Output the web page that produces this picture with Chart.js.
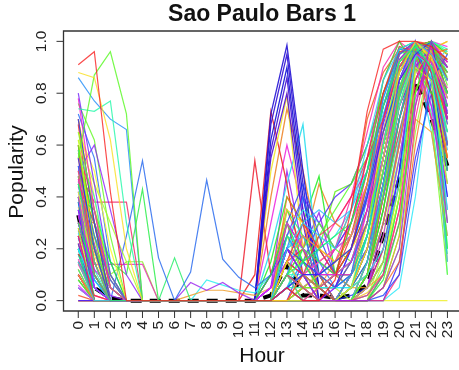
<!DOCTYPE html>
<html>
<head>
<meta charset="utf-8">
<script src="https://cdn.jsdelivr.net/npm/chart.js@4/dist/chart.umd.min.js"></script>
<style>
  body { margin: 0; background: #fff; }
  canvas { display: block; }
</style>
</head>
<body>
<canvas id="popularity" width="459" height="370"></canvas>
<script>
// Hours of the day (x axis)
const hours = [0,1,2,3,4,5,6,7,8,9,10,11,12,13,14,15,16,17,18,19,20,21,22,23];
const yTicks = [0, 0.2, 0.4, 0.6, 0.8, 1.0];

// Bars that are busy late at night
const nightBars = [
  [.91,.96,.42,0,0,0,0,0,0,0,0,0,0,.05,0,0,.08,.35,.73,.97,1,1,.98,.93],
  [.88,.86,.62,.2,0,0,0,0,0,0,0,0,0,0,0,0,0,.05,.2,.55,.88,1,.94,.78],
  [.55,.87,.96,.72,0,0,0,0,0,0,0,0,0,.1,.05,0,0,0,.1,.42,.8,.98,1,.86],
  [.74,.73,.77,.3,0,0,0,0,0,0,0,0,0,.1,0,0,0,.05,.25,.6,.92,.99,.9,.65],
  [.86,.77,.7,.66,0,0,0,0,0,0,0,0,0,0,0,0,0,.1,.4,.78,.97,.96,.85,.6],
  [.8,.45,.1,0,0,0,0,0,0,0,0,0,0,.2,.1,0,.05,.15,.3,.7,.95,1,.97,.9],
  [.78,.35,.05,0,0,0,0,0,0,0,0,0,0,0,0,.05,.1,.1,.35,.7,.92,1,.95,.7],
  [.7,.3,0,0,0,0,0,0,0,0,0,0,0,.15,.3,.2,.1,.2,.45,.8,.98,.96,.9,.7],
  [.65,.5,.2,0,0,0,0,0,0,0,0,0,0,0,0,0,0,.05,.3,.65,.9,1,.93,.82],
  [.6,.2,0,0,0,0,0,0,0,0,0,0,.1,.3,.15,.05,.1,.3,.5,.85,1,.9,.8,.75],
  [.58,.4,.1,0,0,0,0,0,0,0,0,0,0,.05,0,0,0,0,.15,.45,.75,.95,1,.97],
  [.52,.25,.08,0,0,0,0,0,0,0,0,0,0,.2,.4,.15,.05,.1,.25,.55,.85,1,.88,.6],
  [.5,.6,.35,.1,0,0,0,0,0,0,0,0,0,0,0,0,0,0,.05,.3,.6,.9,.98,.72],
  [.47,.15,0,0,0,0,0,0,0,0,0,0,0,.1,.05,.1,.2,.4,.65,.9,1,.95,.7,.45],
  [.45,.3,.05,0,0,0,0,0,0,0,0,0,0,.3,.2,.05,0,.05,.2,.5,.8,.97,.95,.88],
  [.42,.1,0,0,0,0,0,0,0,0,0,0,0,0,0,0,0,.1,.3,.6,.95,1,.9,.55],
  [.4,.35,.15,0,0,0,0,0,0,0,0,0,0,.05,.1,.05,0,0,.1,.35,.7,.93,1,.95],
  [.38,.05,0,0,0,0,0,0,0,0,0,0,0,.25,.35,.3,.2,.25,.4,.6,.85,.98,.9,.8],
  [.35,.2,0,0,0,0,0,0,0,0,0,0,0,0,0,0,0,0,.05,.2,.5,.85,1,.92],
  [.33,.12,.05,0,0,0,0,0,0,0,0,0,.05,.15,.1,0,0,.1,.3,.65,.9,1,.75,.5],
  [.3,.1,0,0,0,0,0,0,0,0,0,0,0,0,.05,.1,.15,.3,.55,.85,1,.9,.7,.55],
  [.28,.05,0,0,0,0,0,0,0,0,0,0,0,.4,.3,.1,0,0,.1,.4,.7,.95,.97,.8],
  [.25,.25,.1,0,0,0,0,0,0,0,0,0,0,0,0,0,0,0,0,.15,.45,.8,1,.9],
  [.22,0,0,0,0,0,0,0,0,0,0,0,0,.1,.2,.1,.05,.15,.35,.7,.97,1,.85,.3],
  [.2,.08,0,0,0,0,0,0,0,0,0,0,0,0,0,0,0,.05,.2,.5,.8,1,.9,.62],
  [.18,0,0,0,0,0,0,0,0,0,0,0,.05,.3,.45,.25,.1,.05,.15,.45,.78,.98,1,.85],
  [.15,.05,0,0,0,0,0,0,0,0,0,0,0,0,0,.05,.1,.2,.4,.7,.96,.94,.8,.2],
  [.12,0,0,0,0,0,0,0,0,0,0,0,0,.05,0,0,0,0,.05,.25,.6,.92,1,.96],
  [.1,0,0,0,0,0,0,0,0,0,0,0,0,.2,.1,.05,.05,.1,.2,.4,.65,.9,.99,.68],
  [.08,0,0,0,0,0,0,0,0,0,0,0,0,0,.15,.3,.4,.45,.6,.8,.95,1,.85,.4],
  [.05,0,0,0,0,0,0,0,0,0,0,0,0,.1,.1,0,0,0,.1,.3,.55,.85,.95,.1],
  [0,0,0,0,0,0,0,0,0,0,0,0,0,0,0,0,0,0,0,.1,.35,.75,1,.98],
  [.62,.45,.3,.15,0,0,0,0,0,0,0,0,0,0,0,0,0,0,0,.2,.55,.9,.96,.88],
  [.72,.55,.15,0,0,0,0,0,0,0,0,0,0,.1,.2,.1,0,.05,.25,.55,.82,.99,.93,.73],
  [.68,.2,0,0,0,0,0,0,0,0,0,0,0,0,.05,.05,.1,.25,.5,.75,.95,1,.97,.92],
  [.57,.3,0,0,0,0,0,0,0,0,0,0,0,.35,.25,.15,.1,.05,.1,.35,.65,.9,.98,.6],
  [.44,.22,.02,0,0,0,0,0,0,0,0,0,0,0,0,0,0,0,.1,.45,.85,1,.8,.35],
  [.36,.18,0,0,0,0,0,0,0,0,0,0,.05,.15,.05,0,0,0,0,.1,.4,.8,.97,1],
  [.26,.1,0,0,0,0,0,0,0,0,0,0,0,.05,.1,.2,.25,.35,.55,.8,.98,.95,.65,.25],
  [.14,.02,0,0,0,0,0,0,0,0,0,0,0,0,0,0,0,0,.15,.45,.7,.9,.96,.78],
  [.76,.62,.25,0,0,0,0,0,0,0,0,0,0,0,0,0,0,.05,.15,.4,.75,.98,1,.83],
  [.48,.05,0,0,0,0,0,0,0,0,0,0,.1,.25,.15,.05,.05,.2,.45,.75,.9,.97,.9,.5],
  [.32,.3,.08,0,0,0,0,0,0,0,0,0,0,0,0,0,0,0,.05,.3,.62,.92,.99,.95],
  [.2,0,0,0,0,0,0,0,0,0,0,0,0,.05,.2,.1,.1,.15,.3,.6,.88,.96,.72,.18],
  [.06,0,0,0,0,0,0,0,0,0,0,0,0,0,0,0,.05,.1,.25,.55,.9,1,.97,.9]
];

// Bars that fill up through the evening
const eveningBars = [
  [.3,.1,0,0,0,0,0,0,0,0,0,0,0,.1,.15,.2,.25,.3,.5,.75,.92,.98,.9,.75],
  [.15,0,0,0,0,0,0,0,0,0,0,0,0,.2,.3,.25,.2,.35,.6,.85,.97,1,.95,.85],
  [.55,.2,0,0,0,0,0,0,0,0,0,0,0,.05,.1,.1,.15,.2,.4,.65,.85,.95,1,.7],
  [.4,.05,0,0,0,0,0,0,0,0,0,0,.05,.3,.2,.1,.1,.15,.35,.55,.8,.95,.92,.82],
  [.25,0,0,0,0,0,0,0,0,0,0,0,0,0,.1,.25,.3,.4,.55,.7,.9,1,.88,.6],
  [.1,0,0,0,0,0,0,0,0,0,0,0,0,.15,.25,.2,.15,.25,.45,.7,.92,.99,.97,.9],
  [.65,.35,.1,0,0,0,0,0,0,0,0,0,0,0,.05,.05,.1,.15,.3,.6,.88,1,.97,.93],
  [.45,.15,0,0,0,0,0,0,0,0,0,0,0,.25,.2,.15,.1,.1,.25,.5,.78,.96,1,.88],
  [.2,.05,0,0,0,0,0,0,0,0,0,0,0,.1,.3,.35,.3,.35,.5,.72,.9,.98,.9,.65],
  [.35,0,0,0,0,0,0,0,0,0,0,0,.1,.2,.15,.1,.05,.2,.42,.68,.9,1,.95,.78],
  [.05,0,0,0,0,0,0,0,0,0,0,0,0,.05,.1,.15,.2,.25,.38,.62,.85,.97,1,.92],
  [.6,.1,0,0,0,0,0,0,0,0,0,0,0,.15,.1,.05,.1,.3,.55,.8,.96,.97,.8,.55],
  [.3,.2,.05,0,0,0,0,0,0,0,0,0,0,.35,.3,.2,.15,.2,.3,.5,.75,.93,.99,.95],
  [.5,.25,0,0,0,0,0,0,0,0,0,0,0,.1,.2,.3,.2,.15,.3,.55,.82,1,.93,.72],
  [.12,0,0,0,0,0,0,0,0,0,0,0,0,.05,.05,.1,.15,.2,.45,.75,.95,.99,.85,.45],
  [.42,.3,.1,0,0,0,0,0,0,0,0,0,0,.2,.25,.1,.05,.1,.2,.4,.7,.95,.98,.85],
  [.22,0,0,0,0,0,0,0,0,0,0,0,.05,.25,.4,.3,.2,.3,.5,.75,.95,1,.9,.7],
  [.33,.05,0,0,0,0,0,0,0,0,0,0,0,.1,.05,.1,.2,.3,.45,.7,.88,.97,.96,.9],
  [.18,.1,0,0,0,0,0,0,0,0,0,0,0,.15,.2,.15,.1,.2,.35,.6,.85,.98,1,.8],
  [.7,.4,.05,0,0,0,0,0,0,0,0,0,0,.05,.1,.15,.2,.25,.4,.65,.9,1,.9,.6],
  [.08,0,0,0,0,0,0,0,0,0,0,0,0,.2,.15,.25,.35,.45,.6,.8,.96,.95,.8,.5],
  [.38,.12,0,0,0,0,0,0,0,0,0,0,0,.3,.15,.05,.05,.1,.25,.5,.8,.97,1,.96],
  [.27,.08,0,0,0,0,0,0,0,0,0,0,0,.05,.15,.2,.1,.15,.3,.55,.82,.98,.94,.68],
  [.52,.15,0,0,0,0,0,0,0,0,0,0,.05,.2,.1,.1,.15,.25,.45,.7,.93,1,.97,.88],
  [.16,0,0,0,0,0,0,0,0,0,0,0,0,.1,.25,.2,.3,.4,.5,.65,.85,.95,.9,.3],
  [.02,0,0,0,0,0,0,0,0,0,0,0,0,0,.05,.1,.1,.15,.3,.6,.88,1,.99,.93],
  [.46,.2,0,0,0,0,0,0,0,0,0,0,0,.15,.3,.2,.1,.1,.2,.45,.75,.92,.99,.75],
  [.24,.05,0,0,0,0,0,0,0,0,0,0,0,.25,.15,.1,.2,.3,.5,.78,.95,.99,.93,.58],
  [.58,.3,.05,0,0,0,0,0,0,0,0,0,0,.1,.05,.05,.1,.2,.35,.6,.85,.98,1,.9],
  [.1,0,0,0,0,0,0,0,0,0,0,0,0,.05,.1,.05,.15,.25,.4,.65,.9,1,.85,.15]
];

// Bars that only open up around 21h
const lateBars = [
  [.3,.05,0,0,0,0,0,0,0,0,0,0,0,.05,0,0,0,0,0,.05,.2,.75,1,.9],
  [.5,.1,0,0,0,0,0,0,0,0,0,0,0,.1,.05,0,0,0,.02,.1,.35,.85,.98,.7],
  [.15,0,0,0,0,0,0,0,0,0,0,0,0,0,.1,.05,0,0,0,.05,.15,.6,.95,.97],
  [.62,.2,0,0,0,0,0,0,0,0,0,0,0,.15,.05,0,0,0,.05,.15,.4,.9,.85,.45],
  [.4,0,0,0,0,0,0,0,0,0,0,0,0,0,0,0,0,0,0,.08,.3,.8,1,.8],
  [.2,.05,0,0,0,0,0,0,0,0,0,0,0,.05,.1,.05,.05,.05,.1,.2,.45,.95,.9,.35],
  [.7,.3,0,0,0,0,0,0,0,0,0,0,0,0,0,0,0,0,0,.02,.1,.5,.85,.95],
  [.35,.1,0,0,0,0,0,0,0,0,0,0,0,.2,.1,0,0,0,.05,.25,.55,.92,.75,.3],
  [.1,0,0,0,0,0,0,0,0,0,0,0,0,0,0,0,0,0,0,0,.1,.7,1,.85],
  [.55,.15,0,0,0,0,0,0,0,0,0,0,0,.1,0,0,0,.05,.1,.3,.6,.98,.95,.55],
  [.28,0,0,0,0,0,0,0,0,0,0,0,0,0,.05,.1,.05,0,0,.05,.25,.88,.97,.65],
  [.45,.2,.05,0,0,0,0,0,0,0,0,0,0,0,0,0,0,0,0,.1,.4,.93,1,.2],
  [.05,0,0,0,0,0,0,0,0,0,0,0,0,.1,.05,0,0,0,0,0,.05,.4,.9,.97],
  [.38,.05,0,0,0,0,0,0,0,0,0,0,0,.05,.1,.05,0,.02,.05,.15,.5,1,.8,.4],
  [.25,0,0,0,0,0,0,0,0,0,0,0,.05,.15,.05,0,0,0,0,.1,.3,.78,.93,.6],
  [.6,.35,.05,0,0,0,0,0,0,0,0,0,0,0,0,0,0,0,.05,.2,.45,.85,1,.92],
  [.12,0,0,0,0,0,0,0,0,0,0,0,0,0,0,.05,.1,.05,.05,.1,.35,.7,.65,.25],
  [.48,.1,0,0,0,0,0,0,0,0,0,0,0,.25,.1,0,0,0,0,.05,.2,.65,.96,.88],
  [.18,0,0,0,0,0,0,0,0,0,0,0,0,0,0,0,0,0,.02,.12,.4,.9,.99,.5],
  [.33,.08,0,0,0,0,0,0,0,0,0,0,0,.05,.15,.1,.05,.05,.1,.3,.62,.97,.88,.15],
  [0,0,0,0,0,0,0,0,0,0,0,0,0,0,0,0,0,0,0,0,.15,.55,.8,.75],
  [.42,.15,0,0,0,0,0,0,0,0,0,0,0,.1,.05,0,0,0,.05,.2,.5,.95,1,.72],
  [.22,.02,0,0,0,0,0,0,0,0,0,0,0,0,.05,0,0,0,0,.05,.25,.82,.9,.55],
  [.58,.25,0,0,0,0,0,0,0,0,0,0,0,.05,0,0,0,0,.03,.1,.3,.75,.97,1],
  [.08,0,0,0,0,0,0,0,0,0,0,0,0,.15,.1,.05,0,0,.05,.15,.45,.98,.7,.1]
];

// Bars with a lunch time peak
const lunchBars = [
  [.2,0,0,0,0,0,0,0,0,0,0,0,.72,.985,.5,.05,0,.1,.3,.6,.85,.95,.9,.7],
  [.1,0,0,0,0,0,0,0,0,0,0,0,.68,.95,.45,0,0,.05,.2,.5,.8,.97,.93,.6],
  [.15,.05,0,0,0,0,0,0,0,0,0,0,.62,.9,.4,.1,0,0,.15,.45,.75,.9,1,.8],
  [.25,0,0,0,0,0,0,0,0,0,0,0,.58,.86,.35,.05,0,.1,.3,.55,.85,1,.88,.5],
  [.05,0,0,0,0,0,0,0,0,0,0,0,.55,.8,.3,0,0,0,.1,.4,.7,.95,.97,.75],
  [0,0,0,0,0,0,0,0,0,0,0,0,.5,.79,.2,0,0,.05,.2,.5,.8,.95,.9,.55],
  [.1,0,0,0,0,0,0,0,0,0,0,.1,.73,.45,.1,0,0,0,.1,.35,.7,.9,1,.85],
  [0,0,0,0,0,0,0,0,0,0,0,0,.4,.74,.5,.2,.1,.1,.2,.5,.8,.97,.94,.7],
  [.1,0,0,0,0,0,0,0,0,0,0,0,.2,.45,.68,.1,0,.05,.2,.45,.8,1,.9,.6],
  [0,0,0,0,0,0,0,0,0,0,0,.54,.1,.3,.1,0,0,.1,.25,.55,.85,.97,.9,.6],
  [.3,.1,0,0,0,0,0,0,0,0,0,0,.3,.6,.35,.1,0,0,.1,.4,.75,.95,1,.9],
  [0,0,0,0,0,0,0,0,0,0,0,0,.15,.4,.3,.48,.1,.1,.3,.6,.9,1,.93,.8],
  [.2,0,0,0,0,0,0,0,0,0,0,0,.1,.35,.2,.45,.3,.25,.45,.7,.9,.98,.85,.7],
  [0,0,0,0,0,0,0,0,0,0,0,0,.05,.5,.2,.34,.1,.1,.3,.55,.85,.98,.92,.6],
  [.4,.1,0,0,0,0,0,0,0,0,0,0,0,.2,.1,.2,.42,.45,.55,.65,.85,.95,.9,.8],
  [.1,0,0,0,0,0,0,0,0,0,0,0,0,.05,.1,.15,.2,.35,.7,.88,.97,.95,.85,.65]
];

// Bars with odd early / morning activity
const oddBars = [
  [.3,.1,0,.25,.54,.165,0,.11,.465,.16,.09,.05,.1,.3,.2,.05,.1,.2,.4,.7,.9,.98,1,.95],
  [.45,.3,.15,.1,.43,0,0,0,0,0,0,0,0,.1,.05,0,0,.1,.3,.6,.85,.97,.9,.7],
  [.35,.1,0,0,0,0,.165,0,0,0,0,0,0,.05,0,0,0,.05,.2,.5,.8,.95,1,.9],
  [.4,.15,0,0,0,0,0,.07,.04,.07,.03,0,0,.2,.1,0,0,.1,.25,.55,.85,1,.95,.75],
  [.25,0,0,0,0,0,0,.02,.04,.04,.03,.02,.05,.2,.1,.05,.05,.15,.35,.7,.93,.99,.88,.6],
  [.2,0,0,0,0,0,0,0,.08,.06,.04,.03,.1,.3,.2,.05,0,.05,.25,.6,.9,1,.95,.8],
  [.5,.38,.38,.38,0,0,0,0,0,0,0,0,0,.1,0,0,0,.1,.3,.6,.9,1,.92,.7],
  [.3,.14,.14,.14,.14,0,0,0,0,0,0,0,0,0,.05,0,0,.05,.2,.45,.8,.97,1,.85],
  [.4,.2,.1,.15,.15,0,0,0,0,0,0,0,0,.05,0,0,0,0,.15,.4,.7,.93,.98,.9],
  [0,0,0,0,0,0,0,0,0,0,0,0,0,0,0,0,0,0,0,0,0,0,0,0]
];

// Mean popularity of all bars (dashed black line)
const meanPopularity = [.33,.05,.01,0,0,0,0,0,0,0,0,0,.02,.14,.02,.02,.01,.02,.06,.25,.47,.85,.7,.52];

// colours for the lunch / odd groups
const lunchHues = [245,250,240,255,260,58,0,28,185,355,305,120,30,275,100,20];
const oddHues = [220,130,140,275,35,180,340,315,90,60];

function toPoints(values) {
    return hours.map((h, i) => ({ x: h, y: values[i] }));
}

function lineSet(values, colour, width) {
    return {
        data: toPoints(values),
        borderColor: colour,
        borderWidth: width,
        pointRadius: 0,
        fill: false
    };
}

// interleave the groups so the colours stay mixed
let general = [];
let groups = [nightBars, eveningBars, lateBars];
let longest = Math.max(...groups.map(g => g.length));
for (let i = 0; i < longest; i++) {
    groups.forEach(g => { if (g[i]) general.push(g[i]); });
}

let datasets = [];
general.forEach((s, i) => {
    let hue = (i * 137.5) % 360;
    datasets.push(lineSet(s, `hsla(${hue}, 95%, 55%, 0.8)`, 1.2));
});
oddBars.forEach((s, i) => {
    datasets.push(lineSet(s, `hsla(${oddHues[i]}, 85%, 55%, 0.85)`, 1.2));
});
lunchBars.forEach((s, i) => {
    let light = lunchHues[i] >= 235 && lunchHues[i] <= 260 ? 45 : 55;
    datasets.push(lineSet(s, `hsla(${lunchHues[i]}, 85%, ${light}%, 0.9)`, 1.3));
});
datasets.push({
    data: toPoints(meanPopularity),
    borderColor: '#000',
    borderWidth: 4,
    borderDash: [11, 8],
    pointRadius: 0,
    fill: false
});

// Draws the R style box, ticks and text
const rAxes = {
    id: 'rAxes',
    afterDraw(chart) {
        let c = chart.ctx;
        let xs = chart.scales.x, ys = chart.scales.y;
        let a = chart.chartArea;
        c.save();
        c.strokeStyle = '#333';
        c.lineWidth = 1.3;
        c.beginPath();
        c.moveTo(chart.width + 5, a.top);
        c.lineTo(a.left, a.top);
        c.lineTo(a.left, a.bottom);
        c.lineTo(chart.width + 5, a.bottom);
        c.stroke();

        c.fillStyle = '#222';
        c.font = '15.5px "Liberation Sans", Arial, sans-serif';
        c.textBaseline = 'middle';
        c.lineWidth = 1;
        yTicks.forEach(v => {
            let py = ys.getPixelForValue(v);
            c.beginPath();
            c.moveTo(a.left, py);
            c.lineTo(a.left - 7, py);
            c.stroke();
            c.save();
            c.translate(42, py);
            c.rotate(-Math.PI / 2);
            c.textAlign = 'center';
            c.fillText(v.toFixed(1), 0, 0);
            c.restore();
        });
        hours.forEach(h => {
            let px = xs.getPixelForValue(h);
            c.beginPath();
            c.moveTo(px, a.bottom);
            c.lineTo(px, a.bottom + 7);
            c.stroke();
            c.save();
            c.translate(px, a.bottom + 10);
            c.rotate(-Math.PI / 2);
            c.textAlign = 'right';
            c.fillText(String(h), 0, 0);
            c.restore();
        });

        c.fillStyle = '#111';
        c.textAlign = 'center';
        c.font = '21px "Liberation Sans", Arial, sans-serif';
        c.fillText('Hour', 262, 356);
        c.save();
        c.translate(17, 172);
        c.rotate(-Math.PI / 2);
        c.fillText('Popularity', 0, 0);
        c.restore();

        c.font = 'bold 23px "Liberation Sans", Arial, sans-serif';
        c.fillText('Sao Paulo Bars 1', 262, 15);
        c.restore();
    }
};

let cntx = document.getElementById('popularity').getContext('2d');
let chart = new Chart(cntx, {
    type: 'line',
    data: { datasets: datasets },
    options: {
        responsive: false,
        animation: false,
        layout: { padding: { left: 63.5, top: 31, right: 0, bottom: 59 } },
        scales: {
            x: { type: 'linear', min: -0.92, max: 23.72, display: false },
            y: { min: -0.04, max: 1.04, display: false }
        },
        elements: { line: { tension: 0 } },
        plugins: {
            legend: { display: false },
            tooltip: { enabled: false }
        }
    },
    plugins: [rAxes]
});
</script>
</body>
</html>
